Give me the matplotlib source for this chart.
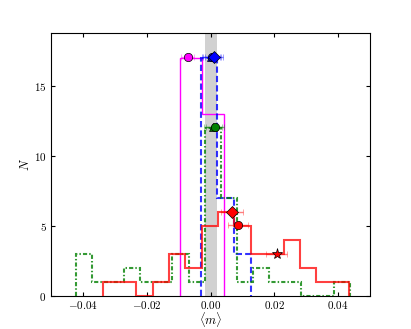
import matplotlib
matplotlib.use('Agg')
import matplotlib.pyplot as plt
from matplotlib.ticker import FuncFormatter

plt.rcParams['mathtext.fontset'] = 'cm'
plt.rcParams['font.family'] = 'serif'
plt.rcParams['font.serif'] = ['DejaVu Serif']

# histogram bins and counts
red_edges = [-0.0337, -0.0285, -0.0234, -0.0182, -0.0131, -0.0079, -0.0028, 0.0023,
             0.0074, 0.0126, 0.0177, 0.0229, 0.0280, 0.0332, 0.0383, 0.0435]
red_counts = [1, 1, 0, 1, 3, 2, 5, 6, 5, 3, 3, 4, 2, 1, 1]

green_edges = [-0.0424, -0.0373, -0.0322, -0.0272, -0.0221, -0.0171, -0.0120, -0.0069,
               -0.0019, 0.0032, 0.0082, 0.0133, 0.0184, 0.0234, 0.0285, 0.0335, 0.0386, 0.0437]
green_counts = [3, 1, 1, 2, 1, 1, 3, 1, 12, 7, 1, 2, 1, 1, 0, 0, 1]

blue_edges = [-0.0031, 0.0021, 0.0073, 0.0126]
blue_counts = [17, 7, 3]

mag_edges = [-0.0096, -0.0027, 0.0042]
mag_counts = [17, 13]

# markers: (x, y, xerr, marker, colour)
points = [
    (-0.0072, 17.1, 0.0020, 'o', 'magenta'),
    (0.0000, 17.1, 0.0028, '^', 'blue'),
    (0.0005, 17.1, 0.0028, 'o', 'blue'),
    (0.0010, 17.1, 0.0028, 'D', 'blue'),
    (0.0008, 12.05, 0.0028, '^', 'green'),
    (0.0015, 12.05, 0.0028, 'o', 'green'),
    (0.0068, 6.0, 0.0035, 'D', 'red'),
    (0.0086, 5.05, 0.0030, 'o', 'red'),
    (0.0207, 3.0, 0.0032, '*', 'red'),
]

band = (-0.0019, 0.0021)

fig = plt.figure(figsize=(4.11, 3.29), dpi=100)
fig.subplots_adjust(left=0.125, right=0.9, bottom=0.1, top=0.9)
ax = fig.add_subplot(111)

ax.axvspan(band[0], band[1], color='0.82', lw=0, zorder=0)

ax.stairs(mag_counts, mag_edges, color='magenta', lw=1.0, zorder=2)
ax.stairs(blue_counts, blue_edges, color='blue', lw=1.5, ls=(0, (3, 1.5)), alpha=0.8, zorder=3)
ax.stairs(green_counts, green_edges, color='green', lw=1.5, ls=(0, (2, 1, 0.7, 1)),
          alpha=0.8, zorder=3)
ax.stairs(red_counts, red_edges, color='red', lw=1.5, alpha=0.75, zorder=4)

for x, y, xe, m, c in points:
    ms = 8 if m == '*' else 6
    eb = ax.errorbar([x], [y], xerr=[xe], fmt=m, color=c, elinewidth=1,
                     capsize=2, markersize=ms, markeredgecolor='k',
                     markeredgewidth=0.5, zorder=5)
    for art in eb[1] + eb[2]:
        art.set_alpha(0.5)

ax.set_xlim(-0.05, 0.05)
ax.set_ylim(0, 18.8)
ax.set_xticks([-0.04, -0.02, 0.0, 0.02, 0.04])
ax.set_yticks([0, 5, 10, 15])
ax.xaxis.set_major_formatter(FuncFormatter(lambda v, p: r'$%.2f$' % v))
ax.yaxis.set_major_formatter(FuncFormatter(lambda v, p: r'$%d$' % v))
ax.tick_params(direction='in', top=True, right=True, labelsize=8, length=3)
ax.tick_params(axis='x', pad=2)
ax.set_xlabel(r'$\langle m\rangle$', fontsize=9)
ax.set_ylabel(r'$N$', fontsize=9)
ax.xaxis.set_label_coords(0.5, -0.052)
ax.yaxis.set_label_coords(-0.06, 0.5)

fig.savefig('out.png', dpi=100)
